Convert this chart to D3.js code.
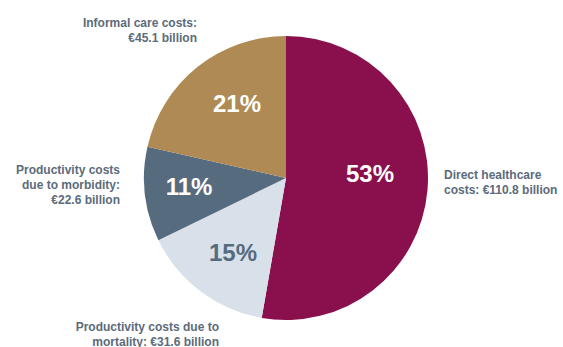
<!DOCTYPE html>
<html><head><meta charset="utf-8">
<script src="https://cdn.jsdelivr.net/npm/d3@7"></script>
<style>body{margin:0;background:#fff}svg{display:block}text{font-family:"Liberation Sans",Arial,sans-serif;font-weight:bold}</style>
</head><body>
<svg id="c" width="563" height="347"></svg>
<script>
const categories = ["Direct healthcare costs", "Productivity costs due to mortality", "Productivity costs due to morbidity", "Informal care costs"];
const values = [110.8, 31.6, 22.6, 45.1];
const percentLabels = ["53%", "15%", "11%", "21%"];
const labelLines = [
  ["Direct healthcare", "costs: €110.8 billion"],
  ["Productivity costs due to", "mortality: €31.6 billion"],
  ["Productivity costs", "due to morbidity:", "€22.6 billion"],
  ["Informal care costs:", "€45.1 billion"]
];
const colors = ["#8A104D", "#D8E1E9", "#566B7E", "#B08A55"];
const pctColors = ["#ffffff", "#566B7E", "#ffffff", "#ffffff"];

const svg = d3.select("#c");
const cx = 286, cy = 178, r = 142;
const g = svg.append("g").attr("transform", `translate(${cx},${cy})`);
const pie = d3.pie().sort(null).value(d => d);
const arcs = pie(values);
const arc = d3.arc().innerRadius(0).outerRadius(r);
g.selectAll("path").data(arcs).join("path").attr("d", arc).attr("fill", (d,i) => colors[i]);

const pctPos = [[84, 4], [-53, 83], [-97, 17], [-49, -66]];
g.selectAll("text.p").data(arcs).join("text").attr("class","p")
  .attr("x", (d,i)=>pctPos[i][0]).attr("y",(d,i)=>pctPos[i][1])
  .attr("text-anchor","middle").attr("font-size", 24).attr("fill",(d,i)=>pctColors[i])
  .text((d,i)=>percentLabels[i]);

const labelPos = [
  {x: 444, y: 179, anchor: "start"},
  {x: 219, y: 331, anchor: "end"},
  {x: 120, y: 174, anchor: "end"},
  {x: 197, y: 27, anchor: "end"}
];
labelLines.forEach((lines, i) => {
  const t = svg.append("text").attr("x", labelPos[i].x).attr("y", labelPos[i].y)
    .attr("text-anchor", labelPos[i].anchor).attr("font-size", 12).attr("fill", "#5B6B7B");
  lines.forEach((l, j) => t.append("tspan").attr("x", labelPos[i].x).attr("dy", j ? 15 : 0).text(l));
});
</script>
</body></html>
